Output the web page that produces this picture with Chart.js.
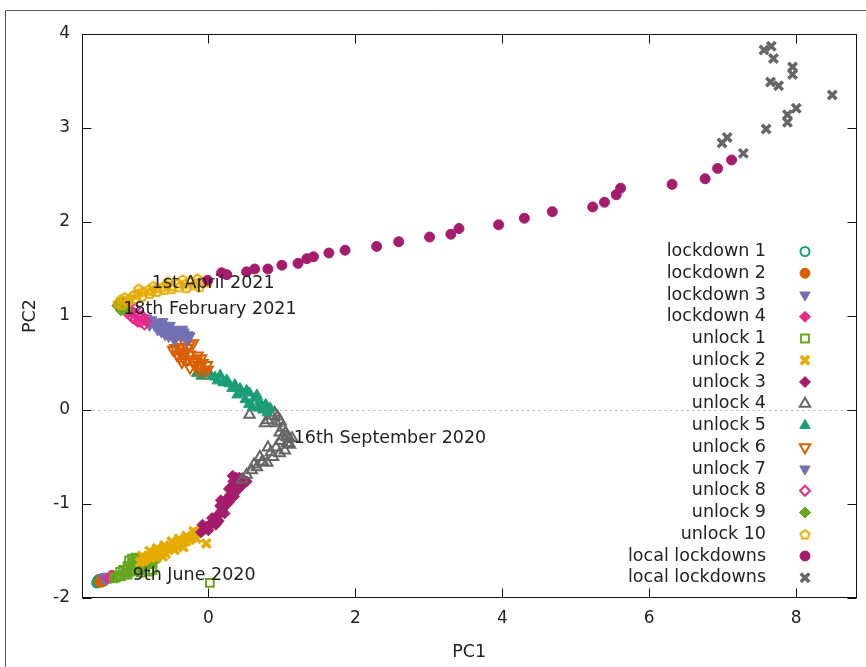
<!DOCTYPE html>
<html>
<head>
<meta charset="utf-8">
<title>PC1 vs PC2</title>
<script src="https://cdn.jsdelivr.net/npm/chart.js@4/dist/chart.umd.min.js"></script>
<style>
  html, body { margin: 0; padding: 0; background: #fff; }
  #wrap { width: 866px; height: 667px; position: relative; }
</style>
</head>
<body>
<div id="wrap"><canvas id="pca" width="866" height="667"></canvas></div>
<script>
// tick values
const xTicks = [0, 2, 4, 6, 8];
const yTicks = [-2, -1, 0, 1, 2, 3, 4];

// series labels (legend order)
const seriesLabels = [
  "lockdown 1", "lockdown 2", "lockdown 3", "lockdown 4",
  "unlock 1", "unlock 2", "unlock 3", "unlock 4", "unlock 5",
  "unlock 6", "unlock 7", "unlock 8", "unlock 9", "unlock 10",
  "local lockdowns", "local lockdowns"
];

// [PC1, PC2] points
const lockdown1 = [[-1.52,-1.84],[-1.50,-1.83],[-1.51,-1.82],[-1.49,-1.82],[-1.48,-1.83],[-1.50,-1.81],[-1.47,-1.81],[-1.49,-1.80],[-1.46,-1.82]];
const lockdown2 = [[-1.48,-1.83],[-1.47,-1.82],[-1.46,-1.81],[-1.45,-1.83],[-1.44,-1.80],[-1.45,-1.82],[-1.43,-1.81],[-1.46,-1.80],[-1.42,-1.82]];
const lockdown3 = [[-1.42,-1.80],[-1.40,-1.79],[-1.39,-1.78],[-1.38,-1.79],[-1.37,-1.77],[-1.40,-1.77],[-1.36,-1.78]];
const lockdown4 = [[-1.36,-1.79],[-1.34,-1.78],[-1.33,-1.79],[-1.32,-1.77],[-1.31,-1.78],[-1.33,-1.76],[-1.30,-1.76]];
const unlock1 = [[-1.29,-1.79],[-1.26,-1.78],[-1.22,-1.76],[-1.19,-1.77],[-1.15,-1.75],[-1.12,-1.73],[-1.10,-1.75],
  [-1.06,-1.72],[-1.03,-1.70],[-1.00,-1.71],[-0.97,-1.68],[-0.94,-1.66],[-0.92,-1.68],[-0.88,-1.65],
  [-0.85,-1.63],[-0.82,-1.62],[-0.79,-1.64],[-0.76,-1.60],[-0.73,-1.58],[-1.02,-1.62],[-0.96,-1.60],
  [-1.08,-1.60],[-1.04,-1.58],[-0.99,-1.57],[-0.94,-1.58],[-0.90,-1.60],[-0.86,-1.70],[-0.80,-1.72],
  [-0.76,-1.70],[-0.92,-1.73],[-1.10,-1.66],[-1.16,-1.70],[-1.20,-1.72],[-0.84,-1.58],[0.02,-1.84]];
const unlock2 = [[-0.93,-1.62],[-0.88,-1.60],[-0.85,-1.58],[-0.80,-1.57],[-0.76,-1.55],[-0.72,-1.54],[-0.68,-1.52],
  [-0.64,-1.51],[-0.60,-1.50],[-0.56,-1.48],[-0.52,-1.47],[-0.48,-1.45],[-0.44,-1.44],[-0.40,-1.43],
  [-0.36,-1.42],[-0.31,-1.40],[-0.26,-1.38],[-0.22,-1.36],[-0.18,-1.32],[-0.14,-1.30],[-0.10,-1.28],
  [-0.06,-1.26],[-0.04,-1.25],[-0.03,-1.42],[-0.58,-1.53],[-0.70,-1.57],
  [-0.90,-1.55],[-0.80,-1.50],[-0.70,-1.47],[-0.60,-1.44],[-0.50,-1.40],[-0.40,-1.37],[-0.30,-1.34],
  [-0.20,-1.29],[-0.62,-1.56],[-0.46,-1.49],[-0.34,-1.46],[-0.16,-1.37]];
const unlock3 = [[-0.10,-1.30],[-0.06,-1.27],[-0.02,-1.24],[0.02,-1.22],[0.06,-1.20],[0.08,-1.16],[0.12,-1.13],
  [0.15,-1.10],[0.18,-1.07],[0.21,-1.04],[0.20,-0.99],[0.24,-0.96],[0.27,-0.93],[0.30,-0.90],[0.33,-0.86],
  [0.31,-0.82],[0.36,-0.80],[0.40,-0.78],[0.44,-0.76],[0.38,-0.72],[0.33,-0.70],[0.48,-0.74],[0.52,-0.76],
  [0.25,-1.00],[0.14,-1.18],[-0.08,-1.22],[0.00,-1.28],[0.05,-1.15],[0.10,-1.22],[0.16,-1.02],[0.22,-1.10],
  [0.28,-0.98],[0.35,-0.92],[0.40,-0.85],[0.46,-0.80],[0.28,-0.84],[0.34,-0.76],[0.17,-0.96],[0.42,-0.72]];
const unlock4 = [[0.46,-0.74],[0.52,-0.69],[0.59,-0.64],[0.66,-0.61],[0.73,-0.55],[0.80,-0.56],[0.74,-0.55],
  [0.88,-0.50],[0.97,-0.46],[1.04,-0.43],[1.11,-0.37],[1.07,-0.35],[1.14,-0.30],[1.07,-0.29],[1.01,-0.28],
  [0.97,-0.24],[1.01,-0.19],[0.93,-0.14],[0.94,-0.07],[0.90,-0.03],[0.81,-0.11],[0.77,-0.14],[0.56,-0.05],
  [0.81,-0.40],[0.62,-0.58],[0.70,-0.50],[0.85,-0.45],[0.92,-0.40],[0.98,-0.33],[1.05,-0.24],[0.98,-0.12],
  [0.86,-0.06],[1.10,-0.30]];
const unlock5 = [[0.84,0.02],[0.80,-0.03],[0.74,0.00],[0.60,0.03],[0.70,0.09],[0.66,0.16],[0.50,0.11],[0.39,0.16],
  [0.56,0.18],[0.52,0.21],[0.43,0.23],[0.32,0.23],[0.20,0.29],[0.25,0.32],[0.16,0.37],[0.09,0.35],
  [-0.01,0.39],[-0.07,0.40],[-0.16,0.39],[0.78,0.06],[0.68,0.02],[0.62,0.12],[0.46,0.18],[0.36,0.27],
  [0.28,0.28],[0.12,0.31],[0.04,0.36],[-0.10,0.36],[0.55,0.06]];
const unlock6 = [[-0.01,0.43],[-0.02,0.48],[-0.12,0.46],[-0.16,0.53],[-0.21,0.51],[-0.25,0.45],[-0.25,0.59],
  [-0.36,0.51],[-0.35,0.56],[-0.43,0.59],[-0.29,0.66],[-0.39,0.67],[-0.48,0.64],[-0.21,0.71],[-0.32,0.71],
  [-0.05,0.41],[-0.08,0.50],[-0.14,0.42],[-0.18,0.48],[-0.28,0.54],[-0.31,0.61],[-0.40,0.56],[-0.45,0.66],
  [-0.26,0.69],[-0.15,0.58],[-0.10,0.55],[-0.38,0.62]];
const unlock7 = [[-0.25,0.79],[-0.29,0.74],[-0.33,0.83],[-0.37,0.79],[-0.41,0.85],[-0.46,0.74],[-0.48,0.82],
  [-0.52,0.90],[-0.56,0.85],[-0.59,0.80],[-0.62,0.94],[-0.66,0.88],[-0.69,0.85],[-0.70,0.93],[-0.77,0.96],
  [-0.80,0.90],[-0.84,0.98],[-0.28,0.80],[-0.35,0.86],[-0.44,0.79],[-0.50,0.86],[-0.54,0.78],[-0.64,0.83],
  [-0.73,0.90],[-0.79,0.94],[-0.60,0.90]];
const unlock8 = [[-0.85,0.95],[-0.89,0.97],[-0.92,0.94],[-0.93,0.99],[-0.97,1.01],[-0.99,0.96],[-1.01,1.03],
  [-1.05,1.05],[-1.07,1.01],[-1.09,1.07],[-1.14,1.12],[-0.87,0.91],[-0.96,0.94],[-1.03,0.98],[-1.11,1.04],
  [-0.90,1.00],[-1.00,1.08]];
const unlock9 = [[-1.12,1.07],[-1.15,1.15],[-1.18,1.12],[-1.19,1.06],[-1.20,1.09],[-1.22,1.14],[-1.24,1.11]];
const unlock10 = [[-1.23,1.14],[-1.19,1.18],[-1.14,1.20],[-1.07,1.19],[-1.01,1.23],[-0.96,1.24],[-0.89,1.26],
  [-0.82,1.28],[-0.77,1.27],[-0.70,1.30],[-0.63,1.31],[-0.56,1.33],[-0.50,1.32],[-0.41,1.35],[-0.33,1.34],
  [-0.25,1.37],[-0.17,1.35],[-0.09,1.37],[-0.01,1.36],[-1.18,1.12],[-1.10,1.15],[-1.00,1.18],[-0.90,1.21],
  [-0.80,1.24],[-0.70,1.26],[-0.60,1.28],[-0.50,1.29],[-0.40,1.31],[-0.30,1.30],[-0.20,1.33],[-0.12,1.31],
  [-0.95,1.29],[-0.75,1.32],[-0.55,1.37],[-0.35,1.39],[-0.15,1.40]];
const localA = [[-0.01,1.38],[0.18,1.46],[0.25,1.44],[0.52,1.47],[0.63,1.50],[0.81,1.50],[1.00,1.54],[1.22,1.56],
  [1.34,1.61],[1.43,1.63],[1.64,1.67],[1.86,1.70],[2.29,1.74],[2.59,1.79],[3.01,1.84],[3.30,1.87],
  [3.41,1.93],[3.95,1.97],[4.30,2.04],[4.68,2.11],[5.23,2.16],[5.39,2.21],[5.55,2.29],[5.61,2.36],
  [6.31,2.40],[6.76,2.46],[6.93,2.57],[7.12,2.66]];
const localB = [[7.28,2.73],[6.99,2.84],[7.06,2.90],[7.59,2.99],[7.88,3.06],[7.88,3.14],[8.00,3.21],[8.49,3.35],
  [7.95,3.57],[7.95,3.65],[7.65,3.49],[7.76,3.45],[7.69,3.74],[7.56,3.83],[7.66,3.87]];

// date annotations: [text, PC1, PC2]
const notes = [
  ["1st April 2021", -0.77, 1.35],
  ["18th February 2021", -1.16, 1.07],
  ["16th September 2020", 1.16, -0.30],
  ["9th June 2020", -1.03, -1.76]
];

const FONT = "DejaVu Sans";
const TXT = "#222";

// gnuplot style open pentagon
function pentagon(color) {
  const c = document.createElement("canvas");
  c.width = 13; c.height = 13;
  const g = c.getContext("2d");
  g.strokeStyle = color; g.lineWidth = 2;
  g.beginPath();
  for (let k = 0; k < 5; k++) {
    const a = -Math.PI / 2 + k * 2 * Math.PI / 5;
    const px = 6.5 + 4.6 * Math.cos(a), py = 7 + 4.6 * Math.sin(a);
    k ? g.lineTo(px, py) : g.moveTo(px, py);
  }
  g.closePath(); g.stroke();
  return c;
}

const none = "rgba(0,0,0,0)";
const styles = [
  { c: "#1b9e77", s: "circle", r: 4.5, fill: false },
  { c: "#d95f02", s: "circle", r: 5, fill: true },
  { c: "#7570b3", s: "triangle", r: 6, rot: 180, fill: true },
  { c: "#e7298a", s: "rectRot", r: 5.5, fill: true },
  { c: "#66a61e", s: "rect", r: 5.5, fill: false },
  { c: "#e6ab02", s: "crossRot", r: 6, fill: true, bw: 3.5 },
  { c: "#a61c6c", s: "rectRot", r: 5.5, fill: true },
  { c: "#666666", s: "triangle", r: 6, fill: false },
  { c: "#1b9e77", s: "triangle", r: 6, fill: true },
  { c: "#d95f02", s: "triangle", r: 6, rot: 180, fill: false },
  { c: "#7570b3", s: "triangle", r: 6, rot: 180, fill: true },
  { c: "#e7298a", s: "rectRot", r: 5, fill: false },
  { c: "#66a61e", s: "rectRot", r: 5.5, fill: true },
  { c: "#e6ab02", s: pentagon("#e6ab02"), r: 6, fill: false },
  { c: "#a61c6c", s: "circle", r: 5, fill: true },
  { c: "#666666", s: "crossRot", r: 6, fill: true, bw: 3.5 }
];
const seriesData = [lockdown1, lockdown2, lockdown3, lockdown4, unlock1, unlock2, unlock3, unlock4,
  unlock5, unlock6, unlock7, unlock8, unlock9, unlock10, localA, localB];

const datasets = seriesData.map((pts, i) => {
  const st = styles[i];
  return {
    label: seriesLabels[i],
    data: pts.map(p => ({ x: p[0], y: p[1] })),
    pointStyle: st.s,
    pointRotation: st.rot || 0,
    pointRadius: st.r,
    pointHoverRadius: st.r,
    pointBorderWidth: st.bw || (st.fill ? 1 : 2),
    pointBackgroundColor: st.fill ? st.c : none,
    pointBorderColor: st.c,
    order: seriesData.length - i
  };
});

const gnuplotLook = {
  id: "gnuplotLook",
  beforeDatasetsDraw(chart) {
    const { ctx, chartArea: a, scales: { y } } = chart;
    const y0 = Math.round(y.getPixelForValue(0)) + 0.5;
    ctx.save();
    ctx.strokeStyle = "#a0a0a0";
    ctx.setLineDash([1.5, 4]);
    ctx.beginPath(); ctx.moveTo(a.left, y0); ctx.lineTo(a.right, y0); ctx.stroke();
    ctx.restore();
  },
  afterDatasetsDraw(chart) {
    const { ctx, chartArea: a, scales: { x, y } } = chart;
    ctx.save();
    // date labels
    ctx.font = "17.5px '" + FONT + "'";
    ctx.fillStyle = TXT;
    ctx.textAlign = "left";
    ctx.textBaseline = "middle";
    notes.forEach(n => ctx.fillText(n[0], x.getPixelForValue(n[1]), y.getPixelForValue(n[2])));

    // border and inward ticks
    ctx.strokeStyle = "#111";
    ctx.lineWidth = 1;
    const L = Math.round(a.left) + 0.5, R = Math.round(a.right) - 0.5;
    const T = Math.round(a.top) + 0.5, B = Math.round(a.bottom) - 0.5;
    ctx.strokeRect(L, T, R - L, B - T);
    ctx.beginPath();
    xTicks.forEach(v => {
      const px = Math.round(x.getPixelForValue(v)) + 0.5;
      ctx.moveTo(px, B); ctx.lineTo(px, B - 9);
      ctx.moveTo(px, T); ctx.lineTo(px, T + 9);
    });
    yTicks.forEach(v => {
      const py = Math.round(y.getPixelForValue(v)) + 0.5;
      ctx.moveTo(L, py); ctx.lineTo(L + 9, py);
      ctx.moveTo(R, py); ctx.lineTo(R - 9, py);
    });
    ctx.stroke();

    // legend inside the plot, key on the right
    const drawPoint = Chart.helpers && Chart.helpers.drawPoint;
    ctx.font = "17.5px '" + FONT + "'";
    ctx.textAlign = "right";
    chart.data.datasets.forEach((ds, i) => {
      const ly = 251.5 + i * 21.75;
      ctx.fillStyle = TXT;
      ctx.fillText(ds.label, 766, ly);
      if (drawPoint) {
        ctx.fillStyle = ds.pointBackgroundColor;
        ctx.strokeStyle = ds.pointBorderColor;
        ctx.lineWidth = ds.pointBorderWidth;
        drawPoint(ctx, {
          pointStyle: ds.pointStyle,
          rotation: ds.pointRotation,
          radius: ds.pointRadius,
          borderWidth: ds.pointBorderWidth
        }, 805, ly);
      }
    });

    // outer figure frame
    ctx.strokeStyle = "#555";
    ctx.lineWidth = 1;
    ctx.beginPath();
    ctx.moveTo(5.5, chart.height); ctx.lineTo(5.5, 10.5); ctx.lineTo(chart.width, 10.5);
    ctx.stroke();
    ctx.restore();
  }
};

new Chart(document.getElementById("pca"), {
  type: "scatter",
  data: { datasets },
  options: {
    responsive: false,
    animation: false,
    devicePixelRatio: 1,
    layout: { padding: { left: 0, top: 34, right: 9, bottom: 0 } },
    plugins: { legend: { display: false }, tooltip: { enabled: false } },
    scales: {
      x: {
        type: "linear",
        min: -1.72,
        max: 8.82,
        afterBuildTicks: s => { s.ticks = xTicks.map(v => ({ value: v })); },
        afterFit: s => { s.height = 69; },
        grid: { display: false, drawTicks: false },
        border: { display: false },
        ticks: { color: TXT, font: { family: FONT, size: 17 }, padding: 10 },
        title: { display: true, text: "PC1", color: TXT, font: { family: FONT, size: 17.5 }, padding: { top: 4, bottom: 4 } }
      },
      y: {
        type: "linear",
        min: -2,
        max: 4,
        afterBuildTicks: s => { s.ticks = yTicks.map(v => ({ value: v })); },
        afterFit: s => { s.width = 82; },
        grid: { display: false, drawTicks: false },
        border: { display: false },
        ticks: { color: TXT, font: { family: FONT, size: 17 }, padding: 12 },
        title: { display: true, text: "PC2", color: TXT, font: { family: FONT, size: 17.5 }, padding: { top: 20, bottom: 4 } }
      }
    }
  },
  plugins: [gnuplotLook]
});
</script>
</body>
</html>
